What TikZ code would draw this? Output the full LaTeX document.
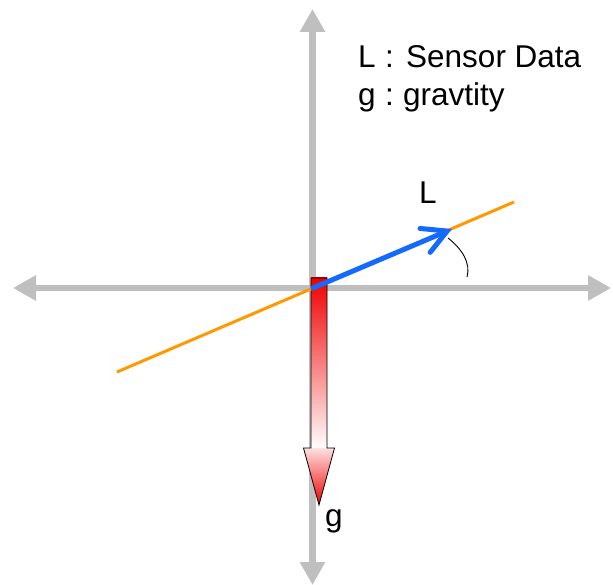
\documentclass[tikz,border=0pt]{standalone}
\usepackage{fontspec}
\setmainfont{Liberation Sans}
\usetikzlibrary{arrows.meta}
\definecolor{axisgrey}{RGB}{191,191,191}
\definecolor{lineorange}{RGB}{255,153,0}
\definecolor{vecblue}{RGB}{20,105,255}
\definecolor{gred}{RGB}{240,0,0}
\tikzset{
  axis/.style={draw=axisgrey, line width=6.5pt, -{Triangle[width=24pt,length=23pt]}},
  lbl/.style={inner sep=0pt, anchor=base west, font=\fontsize{31.5}{38}\selectfont},
}
\begin{document}
\begin{tikzpicture}[x=1pt,y=-1pt]
\useasboundingbox (0,0) rectangle (613,585);
\coordinate (O) at (313,288);
\coordinate (top) at (312.5,9);
\coordinate (bot) at (312.5,585);
\coordinate (left) at (13,288);
\coordinate (right) at (611,288);
% axes
\draw[axis] (312.5,300) -- (top);
\draw[axis] (312.5,280) -- (bot);
\draw[axis] (325,288) -- (left);
\draw[axis] (300,288) -- (right);
% gravity block arrow
\shade[top color=gred, bottom color=white] (311,278) rectangle (327,449);
\shade[top color=gred!12, bottom color=gred] (303.5,448) -- (334.5,448) -- (319,505) -- cycle;
\draw[black, line width=0.8pt, line join=miter] (311,278) -- (327,278) -- (327,448) -- (334.5,448) -- (319,505) -- (303.5,448) -- (311,448) -- cycle;
% orange line
\coordinate (oa) at (117,372);
\coordinate (ob) at (514,202);
\draw[lineorange, line width=3pt] (oa) -- (ob);
% blue vector
\coordinate (Ltip) at (452,229);
\draw[vecblue, line width=5pt, line cap=round, -{Straight Barb[length=24pt,width=26pt,line cap=round]}] (O) -- (Ltip);
% angle arc
\coordinate (a1) at (448,238);
\coordinate (a2) at (467,277);
\draw[black, line width=0.9pt] (a1) .. controls (462,249) and (471,263) .. (a2);
% labels
\node[lbl] (Llab) at (419,204) {L};
\node[lbl] (glab) at (325,526) {g};
\node[lbl] (k1) at (358,68) {L};
\node[lbl] (c1) at (385,68) {:};
\node[lbl] (t1) at (406,68) {Sensor Data};
\node[lbl] (k2) at (358,106) {g};
\node[lbl] (c2) at (385,106) {:};
\node[lbl] (t2) at (403,106) {gravtity};
\end{tikzpicture}
\end{document}
